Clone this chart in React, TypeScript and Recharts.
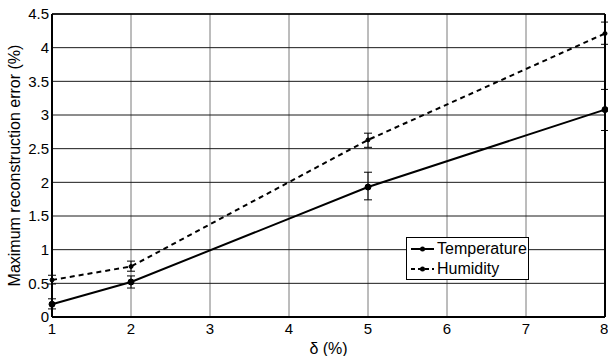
import React from 'react';
import {
  LineChart,
  Line,
  XAxis,
  YAxis,
  CartesianGrid,
  ErrorBar,
  Legend,
  ReferenceLine,
} from 'recharts';

const deltas = [1, 2, 5, 8];
const temperature = [0.19, 0.52, 1.93, 3.08];
const temperatureLow = [0.12, 0.43, 1.74, 2.77];
const temperatureHigh = [0.27, 0.61, 2.15, 3.38];
const humidity = [0.55, 0.75, 2.63, 4.21];
const humidityLow = [0.49, 0.68, 2.52, 4.05];
const humidityHigh = [0.62, 0.83, 2.73, 4.38];

const xTicks = [1, 2, 3, 4, 5, 6, 7, 8];
const yTicks = [0, 0.5, 1, 1.5, 2, 2.5, 3, 3.5, 4, 4.5];

const data = deltas.map((d, i) => ({
  delta: d,
  temperature: temperature[i],
  tErr: [temperature[i] - temperatureLow[i], temperatureHigh[i] - temperature[i]],
  humidity: humidity[i],
  hErr: [humidity[i] - humidityLow[i], humidityHigh[i] - humidity[i]],
}));

const FONT = '"Liberation Sans", Arial, Helvetica, sans-serif';

const LegendBox = () => {
  const items = [
    { name: 'Temperature', dash: undefined },
    { name: 'Humidity', dash: '4 3' },
  ];
  return (
    <div
      style={{
        border: '1.5px solid #000',
        background: '#fff',
        width: 121,
        height: 40,
        boxSizing: 'content-box',
        fontFamily: FONT,
        fontSize: 16,
        color: '#000',
        paddingTop: 1,
      }}
    >
      {items.map((it) => (
        <div key={it.name} style={{ display: 'flex', alignItems: 'center', height: 20 }}>
          <svg width={30} height={20} style={{ flex: 'none' }}>
            <line x1={4} y1={10} x2={27} y2={10} stroke="#000" strokeWidth={2} strokeDasharray={it.dash} />
            <circle cx={15.5} cy={10} r={2.5} fill="#000" />
          </svg>
          <span style={{ lineHeight: '20px' }}>{it.name}</span>
        </div>
      ))}
    </div>
  );
};

export default function App() {
  return (
    <div style={{ width: 608, height: 356, background: '#fff' }}>
      <style>{'body{margin:0}'}</style>
      <LineChart
        width={608}
        height={356}
        data={data}
        margin={{ top: 14, right: 3, bottom: 0, left: 0 }}
        style={{ fontFamily: FONT }}
      >
        <CartesianGrid horizontal={false} stroke="#7a7a7a" strokeWidth={1} />
        <CartesianGrid vertical={false} stroke="#1a1a1a" strokeWidth={1} />
        <XAxis
          dataKey="delta"
          type="number"
          domain={[1, 8]}
          ticks={xTicks}
          height={39}
          tickLine={false}
          tickSize={4}
          axisLine={{ stroke: '#000', strokeWidth: 2 }}
          tick={{ fill: '#000', fontSize: 15 }}
          label={{ value: 'δ (%)', position: 'insideBottom', offset: 2, fill: '#000', fontSize: 16 }}
        />
        <YAxis
          type="number"
          domain={[0, 4.5]}
          ticks={yTicks}
          width={52}
          tickLine={false}
          tickSize={2}
          tickMargin={1}
          axisLine={{ stroke: '#000', strokeWidth: 2 }}
          tick={{ fill: '#000', fontSize: 15 }}
          label={{
            value: 'Maximum reconstruction error (%)',
            angle: -90,
            position: 'insideLeft',
            offset: 14,
            fill: '#000',
            fontSize: 16,
            style: { textAnchor: 'middle' },
          }}
        />
        <ReferenceLine x={8} stroke="#000" strokeWidth={2} />
        <ReferenceLine y={4.5} stroke="#000" strokeWidth={1.5} />
        <Line
          name="Temperature"
          dataKey="temperature"
          stroke="#000"
          strokeWidth={2}
          dot={{ r: 3, fill: '#000', stroke: '#000', strokeWidth: 1 }}
          isAnimationActive={false}
        >
          <ErrorBar dataKey="tErr" width={4} stroke="#000" strokeWidth={1} direction="y" />
        </Line>
        <Line
          name="Humidity"
          dataKey="humidity"
          stroke="#000"
          strokeWidth={2}
          strokeDasharray="5 4"
          dot={{ r: 2, fill: '#000', stroke: '#000', strokeWidth: 1, strokeDasharray: '' }}
          isAnimationActive={false}
        >
          <ErrorBar dataKey="hErr" width={4} stroke="#000" strokeWidth={1} direction="y" />
        </Line>
        <Legend
          layout="vertical"
          align="center"
          verticalAlign="middle"
          content={<LegendBox />}
          wrapperStyle={{ position: 'absolute', left: 406, top: 237, width: 'auto', bottom: 'auto', right: 'auto' }}
        />
      </LineChart>
    </div>
  );
}
